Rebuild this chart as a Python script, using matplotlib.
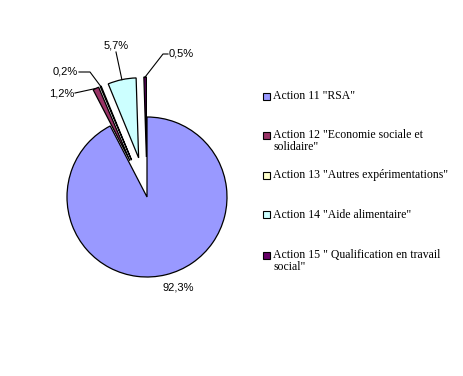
import numpy as np
import matplotlib
matplotlib.use("Agg")
import matplotlib.pyplot as plt
from matplotlib.patches import Rectangle

# data
actions = ['Action 11 "RSA"',
           'Action 12 "Economie sociale et\nsolidaire"',
           'Action 13 "Autres expérimentations"',
           'Action 14 "Aide alimentaire"',
           'Action 15 " Qualification en travail\nsocial"']
shares = [92.3, 1.2, 0.2, 5.7, 0.5]
pct_labels = ["92,3%", "1,2%", "0,2%", "5,7%", "0,5%"]
colors = ["#9999FF", "#993366", "#FFFFCC", "#CCFFFF", "#660066"]

W, H = 463, 376
R = 80.0          # pie radius in px
CX, CY = 147, 197 # pie centre in px (from top)

def px(x, y):
    # pixel (from top-left) -> data units
    return (x - CX) / R, (H - y - (H - CY)) / R

fig = plt.figure(figsize=(W / 100, H / 100), dpi=100)
ax = fig.add_axes([0, 0, 1, 1])
wedges, _ = ax.pie(shares, colors=colors, startangle=90, counterclock=False,
                   explode=[0, 0.5, 0.5, 0.5, 0.5],
                   wedgeprops=dict(edgecolor="black", linewidth=0.9))
ax.set_xlim(-CX / R, (W - CX) / R)
ax.set_ylim(-(H - CY) / R, CY / R)
ax.set_aspect("auto")
ax.axis("off")

# label layout: text pos (px), alignment, leader path (px) before wedge point
lab_layout = [
    ((178, 287), "center", []),
    ((74, 93), "right", [(75, 93)]),
    ((78, 72), "right", [(79, 72), (90, 72)]),
    ((116, 45), "center", [(116, 52)]),
    ((169, 54), "left", [(168, 54), (163, 54)]),
]
pct_font = dict(family="Liberation Sans", fontsize=8)
for w, txt, (pos, ha, path) in zip(wedges, pct_labels, lab_layout):
    tx, ty = px(*pos)
    ax.text(tx, ty, txt, ha=ha, va="center", **pct_font)
    if path:
        a = np.deg2rad((w.theta1 + w.theta2) / 2)
        ex = w.center[0] + w.r * np.cos(a)
        ey = w.center[1] + w.r * np.sin(a)
        pts = [px(*p) for p in path] + [(ex, ey)]
        ax.plot([p[0] for p in pts], [p[1] for p in pts], color="black", lw=0.8)

# legend drawn by hand (markers aligned with first line)
leg_y = [96, 135, 175, 215, 255]
for lab, c, y in zip(actions, colors, leg_y):
    fig.patches.append(Rectangle(((263) / W, 1 - (y + 3.5) / H), 7 / W, 7 / H,
                                 transform=fig.transFigure, facecolor=c,
                                 edgecolor="black", linewidth=0.8))
    fig.text(273 / W, 1 - (y - 6) / H, lab, ha="left", va="top",
             family="Liberation Serif", fontsize=8.5, linespacing=1.05)

fig.savefig("out.png", dpi=100)
